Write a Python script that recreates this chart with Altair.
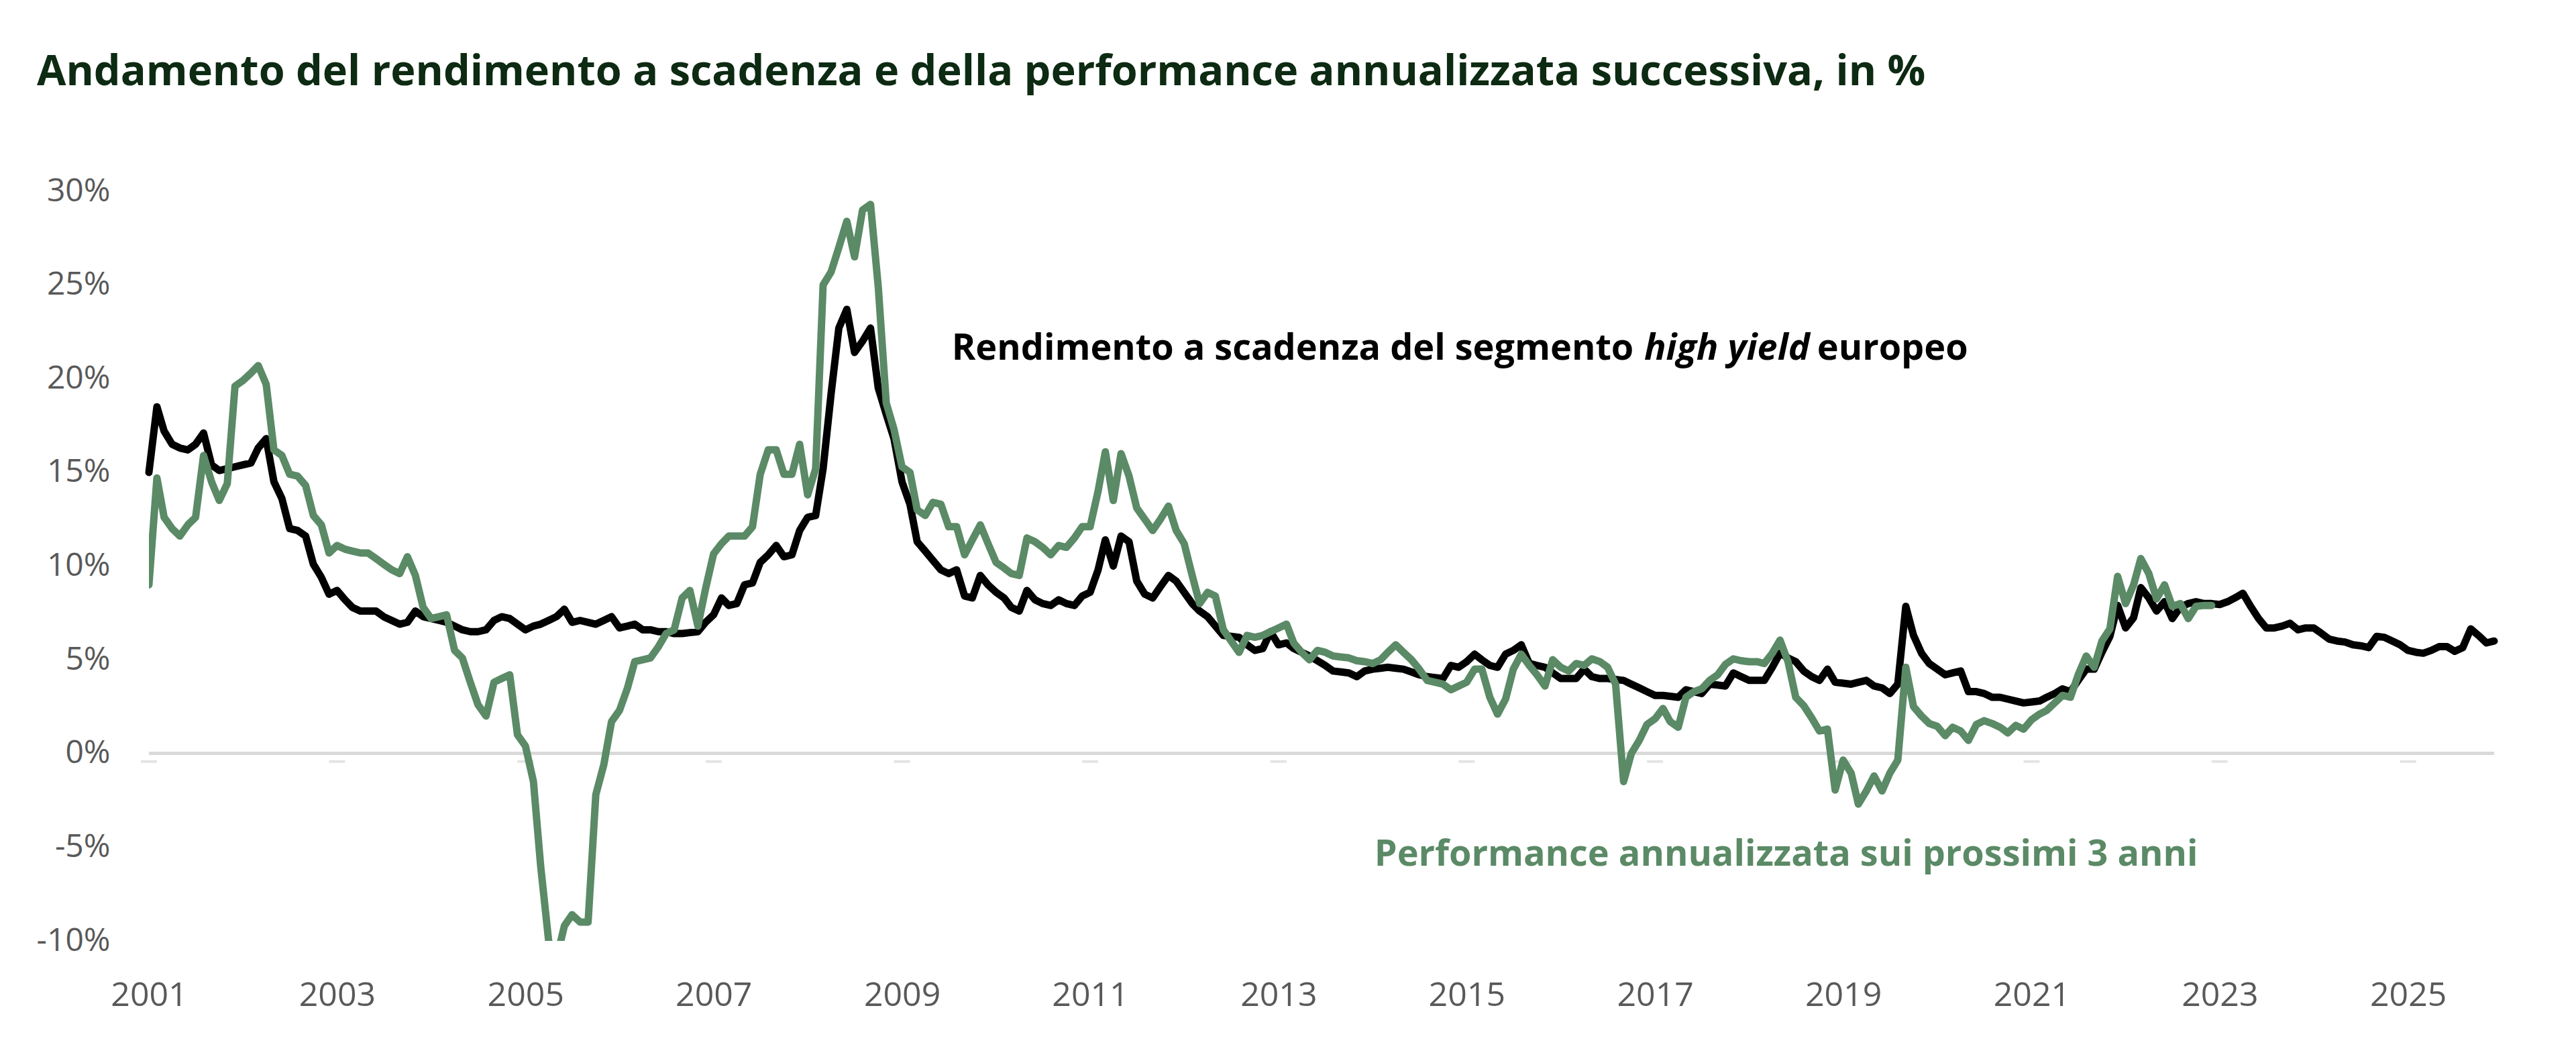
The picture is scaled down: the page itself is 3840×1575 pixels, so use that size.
import altair as alt
import pandas as pd

# ─────────────────────────────────────────────────────────────────────────────
# DATI (mensili) - rendimento a scadenza HY europeo
# ─────────────────────────────────────────────────────────────────────────────
rendimento = {
    2001: [15.0, 18.5, 17.2, 16.5, 16.3, 16.2, 16.5, 17.1, 15.4, 15.1, 15.2, 15.3],
    2002: [15.4, 15.5, 16.3, 16.8, 14.5, 13.6, 12.0, 11.9, 11.6, 10.1, 9.4, 8.5],
    2003: [8.7, 8.2, 7.8, 7.6, 7.6, 7.6, 7.3, 7.1, 6.9, 7.0, 7.6, 7.3],
    2004: [7.2, 7.1, 7.0, 6.8, 6.6, 6.5, 6.5, 6.6, 7.1, 7.3, 7.2, 6.9],
    2005: [6.6, 6.8, 6.9, 7.1, 7.3, 7.7, 7.0, 7.1, 7.0, 6.9, 7.1, 7.3],
    2006: [6.7, 6.8, 6.9, 6.6, 6.6, 6.5, 6.5, 6.4, 6.4, 6.45, 6.5, 7.0],
    2007: [7.4, 8.3, 7.9, 8.0, 9.0, 9.1, 10.2, 10.6, 11.1, 10.5, 10.6, 11.9],
    2008: [12.6, 12.7, 15.2, 19.2, 22.7, 23.7, 21.4, 22.0, 22.7, 19.5, 18.1, 16.8],
    2009: [14.5, 13.3, 11.3, 10.8, 10.3, 9.8, 9.6, 9.8, 8.4, 8.3, 9.5, 9.0],
    2010: [8.6, 8.3, 7.8, 7.6, 8.7, 8.2, 8.0, 7.9, 8.2, 8.0, 7.9, 8.4],
    2011: [8.6, 9.8, 11.4, 10.0, 11.6, 11.3, 9.2, 8.5, 8.3, 8.9, 9.5, 9.2],
    2012: [8.6, 8.0, 7.6, 7.3, 6.8, 6.3, 6.25, 6.2, 5.8, 5.5, 5.6, 6.5],
    2013: [5.8, 5.9, 5.6, 5.4, 5.2, 4.95, 4.7, 4.4, 4.35, 4.3, 4.1, 4.4],
    2014: [4.5, 4.55, 4.6, 4.55, 4.5, 4.35, 4.2, 4.1, 4.05, 4.0, 4.7, 4.6],
    2015: [4.9, 5.3, 5.0, 4.7, 4.6, 5.3, 5.5, 5.8, 4.8, 4.7, 4.6, 4.3],
    2016: [4.0, 4.0, 4.0, 4.5, 4.1, 4.0, 4.0, 3.95, 3.9, 3.7, 3.5, 3.3],
    2017: [3.1, 3.1, 3.05, 3.0, 3.4, 3.3, 3.2, 3.7, 3.65, 3.6, 4.3, 4.1],
    2018: [3.9, 3.9, 3.9, 4.6, 5.35, 5.1, 4.9, 4.4, 4.1, 3.9, 4.5, 3.8],
    2019: [3.75, 3.7, 3.8, 3.9, 3.6, 3.5, 3.2, 3.7, 7.85, 6.3, 5.35, 4.8],
    2020: [4.5, 4.2, 4.3, 4.4, 3.3, 3.3, 3.2, 3.0, 3.0, 2.9, 2.8, 2.7],
    2021: [2.75, 2.8, 3.0, 3.2, 3.45, 3.3, 3.9, 4.5, 4.5, 5.4, 6.25, 7.9],
    2022: [6.7, 7.25, 8.85, 8.3, 7.6, 8.1, 7.2, 7.8, 8.0, 8.1, 8.0, 8.0],
    2023: [7.95, 8.1, 8.3, 8.55, 7.85, 7.2, 6.7, 6.7, 6.8, 6.95, 6.6, 6.7],
    2024: [6.7, 6.4, 6.1, 6.0, 5.95, 5.8, 5.75, 5.65, 6.25, 6.2, 6.0, 5.8],
    2025: [5.5, 5.4, 5.35, 5.5, 5.7, 5.7, 5.45, 5.65, 6.65, 6.3, 5.9, 6.0],
}

# Performance annualizzata sui 3 anni successivi (finisce 3 anni prima)
performance = {
    2001: [9.0, 14.7, 12.6, 12.0, 11.6, 12.2, 12.6, 15.9, 14.5, 13.5, 14.4, 19.6],
    2002: [19.9, 20.3, 20.7, 19.7, 16.2, 15.9, 14.9, 14.8, 14.3, 12.7, 12.2, 10.7],
    2003: [11.1, 10.9, 10.8, 10.7, 10.7, 10.4, 10.1, 9.8, 9.6, 10.5, 9.5, 7.8],
    2004: [7.2, 7.3, 7.4, 5.5, 5.1, 3.8, 2.6, 2.0, 3.8, 4.0, 4.2, 1.0],
    2005: [0.4, -1.5, -6.0, -10.0, -11.0, -9.2, -8.6, -9.0, -9.0, -2.2, -0.6, 1.7],
    2006: [2.3, 3.5, 4.9, 5.0, 5.1, 5.7, 6.4, 6.6, 8.3, 8.7, 6.8, 8.8],
    2007: [10.65, 11.2, 11.6, 11.6, 11.6, 12.1, 14.9, 16.2, 16.2, 14.9, 14.9, 16.5],
    2008: [13.8, 15.2, 25.0, 25.7, 27.0, 28.4, 26.5, 29.0, 29.3, 24.9, 18.7, 17.3],
    2009: [15.3, 15.0, 13.0, 12.7, 13.4, 13.3, 12.1, 12.1, 10.6, 11.4, 12.2, 11.2],
    2010: [10.2, 9.9, 9.6, 9.5, 11.5, 11.3, 11.0, 10.6, 11.1, 11.0, 11.5, 12.1],
    2011: [12.1, 14.0, 16.1, 13.5, 16.0, 14.8, 13.1, 12.5, 11.9, 12.5, 13.2, 11.9],
    2012: [11.2, 9.5, 8.0, 8.6, 8.4, 6.6, 6.0, 5.4, 6.3, 6.2, 6.3, 6.5],
    2013: [6.7, 6.9, 5.9, 5.4, 5.0, 5.5, 5.4, 5.2, 5.15, 5.1, 4.95, 4.9],
    2014: [4.8, 5.0, 5.4, 5.8, 5.4, 5.0, 4.5, 3.9, 3.8, 3.7, 3.4, 3.6],
    2015: [3.8, 4.5, 4.5, 3.0, 2.1, 2.9, 4.5, 5.3, 4.7, 4.2, 3.6, 5.0],
    2016: [4.6, 4.4, 4.8, 4.7, 5.05, 4.9, 4.6, 3.7, -1.5, 0.0, 0.7, 1.55],
    2017: [1.85, 2.4, 1.7, 1.4, 3.0, 3.3, 3.45, 3.9, 4.2, 4.75, 5.05, 4.95],
    2018: [4.9, 4.9, 4.8, 5.35, 6.05, 4.9, 3.0, 2.55, 1.9, 1.2, 1.3, -1.95],
    2019: [-0.35, -1.05, -2.7, -2.0, -1.2, -2.0, -1.05, -0.35, 4.6, 2.5, 2.0, 1.6],
    2020: [1.45, 0.95, 1.4, 1.2, 0.7, 1.55, 1.75, 1.6, 1.4, 1.1, 1.5, 1.3],
    2021: [1.8, 2.1, 2.3, 2.7, 3.1, 3.0, 4.2, 5.2, 4.6, 6.0, 6.65, 9.45],
    2022: [8.0, 9.0, 10.4, 9.6, 8.25, 9.0, 7.85, 8.0, 7.2, 7.85, 7.9, 7.9],
}

anni_tick = [2001, 2003, 2005, 2007, 2009, 2011, 2013, 2015, 2017, 2019, 2021, 2023, 2025]
y_ticks = [-10, -5, 0, 5, 10, 15, 20, 25, 30]

TITOLO = "Andamento del rendimento a scadenza e della performance annualizzata successiva, in %"
VERDE = "#5b8a66"
GRIGIO = "#d9d9d9"
FONT = "Open Sans"


def serie_mensile(dati):
    valori = [v for anno in sorted(dati) for v in dati[anno]]
    date = pd.date_range(f"{min(dati)}-01-01", periods=len(valori), freq="MS")
    return pd.DataFrame({"date": date, "value": valori})


df_rend = serie_mensile(rendimento)
df_perf = serie_mensile(performance)
df_tick = pd.DataFrame({"date": pd.to_datetime([f"{a}-01-01" for a in anni_tick])})

x_scale = alt.Scale(
    domain=[df_rend["date"].min().isoformat(), df_rend["date"].max().isoformat()],
    nice=False,
)
y_scale = alt.Scale(domain=[-10, 30], nice=False)

# ─────────────────────────────────────────────────────────────────────────────
# LINEE
# ─────────────────────────────────────────────────────────────────────────────
linea_rend = (
    alt.Chart(df_rend)
    .mark_line(color="black", strokeWidth=11, strokeJoin="round", strokeCap="round")
    .encode(
        x=alt.X(
            "date:T",
            title=None,
            scale=x_scale,
            axis=alt.Axis(
                values=[d.isoformat() for d in df_tick["date"]],
                format="%Y",
                labelFont=FONT,
                labelFontSize=50,
                labelColor="#595959",
                labelPadding=56,
                labelAlign="center",
                labelFlush=False,
                domain=False,
                ticks=False,
                grid=False,
            ),
        ),
        y=alt.Y(
            "value:Q",
            title=None,
            scale=y_scale,
            axis=alt.Axis(
                values=y_ticks,
                labelExpr="datum.value + '%'",
                labelFont=FONT,
                labelFontSize=48,
                labelColor="#595959",
                labelPadding=58,
                domain=False,
                ticks=False,
                grid=False,
            ),
        ),
    )
)

linea_perf = (
    alt.Chart(df_perf)
    .mark_line(color=VERDE, strokeWidth=11, strokeJoin="round", strokeCap="round", clip=True)
    .encode(x=alt.X("date:T", title=None), y=alt.Y("value:Q", title=None))
)

# Asse dello zero con le tacche
zero = (
    alt.Chart(df_tick)
    .mark_rule(color=GRIGIO, strokeWidth=4)
    .encode(y=alt.datum(0))
)
tacche = (
    alt.Chart(df_tick)
    .mark_tick(color=GRIGIO, thickness=4, size=24, yOffset=12)
    .encode(x=alt.X("date:T", title=None), y=alt.datum(0))
)


# ─────────────────────────────────────────────────────────────────────────────
# ETICHETTE
# ─────────────────────────────────────────────────────────────────────────────
def etichetta(testo, data, valore, colore, stile="normal"):
    return (
        alt.Chart(pd.DataFrame({"date": [pd.Timestamp(data)], "value": [valore], "t": [testo]}))
        .mark_text(
            align="left",
            baseline="alphabetic",
            font=FONT,
            fontSize=54,
            fontWeight="bold",
            fontStyle=stile,
            color=colore,
        )
        .encode(x=alt.X("date:T", title=None), y=alt.Y("value:Q", title=None), text="t:N")
    )


et1 = etichetta("Rendimento a scadenza del segmento", "2009-07-13", 21.0, "black")
et2 = etichetta("high yield", "2016-11-20", 21.0, "black", "italic")
et3 = etichetta("europeo", "2018-09-22", 21.0, "black")
et4 = etichetta("Performance annualizzata sui prossimi 3 anni", "2014-01-08", -6.0, VERDE)

chart = (
    alt.layer(zero, tacche, linea_rend, linea_perf, et1, et2, et3, et4)
    .properties(
        width=3496,
        height=1117,
        autosize=alt.AutoSizeParams(type="none"),
        padding={"left": 214, "top": 277, "right": 110, "bottom": 150},
        title=alt.TitleParams(
            TITOLO,
            anchor="start",
            frame="group",
            font=FONT,
            fontSize=63,
            fontWeight="bold",
            color="#0d2a12",
            baseline="alphabetic",
            offset=71,
            dx=-167,
        ),
    )
    .configure_view(stroke=None)
)

chart.save("out.html", embed_options={"renderer": "svg", "actions": False})
